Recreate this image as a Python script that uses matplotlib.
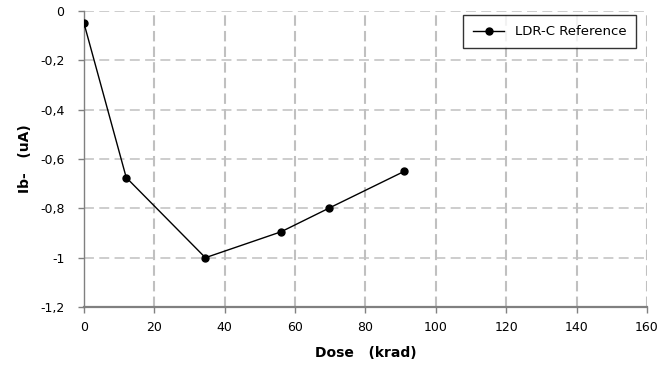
import matplotlib
matplotlib.use("Agg")
import matplotlib.pyplot as plt
from matplotlib.ticker import FixedLocator, FuncFormatter

dose = [0, 12, 34.5, 56, 69.5, 91]
ib = [-0.05, -0.675, -1.0, -0.895, -0.80, -0.65]
series_label = "LDR-C Reference"
x_ticks = [0, 20, 40, 60, 80, 100, 120, 140, 160]
y_ticks = [0, -0.2, -0.4, -0.6, -0.8, -1.0, -1.2]

fig = plt.figure(figsize=(6.62, 3.80), dpi=100)
ax = fig.add_axes([0.1269, 0.192, 0.8504, 0.779])

ax.set_xlim(0, 160)
ax.set_ylim(-1.2, 0)

grid_col = "#c0c0c0"
for xv in x_ticks[1:]:
    ax.axvline(xv, color=grid_col, lw=1.5, ls=(0, (5, 2.5)), zorder=1)
for yv in y_ticks[:-1]:
    ax.axhline(yv, color=grid_col, lw=1.1, ls=(0, (6.5, 3.5)), zorder=1)

ax.plot(dose, ib, color="black", lw=1.0, marker="o", ms=5,
        markerfacecolor="black", markeredgecolor="black",
        label=series_label, zorder=3)

for side in ("top", "right"):
    ax.spines[side].set_visible(False)
ax.spines["left"].set_color("#808080")
ax.spines["left"].set_linewidth(1.0)
ax.spines["bottom"].set_color("#808080")
ax.spines["bottom"].set_linewidth(1.6)

ax.xaxis.set_major_locator(FixedLocator(x_ticks))
ax.yaxis.set_major_locator(FixedLocator(y_ticks))

def comma_fmt(v, pos):
    if abs(v) < 1e-9:
        return "0"
    s = ("%.1f" % v).rstrip("0").rstrip(".")
    return s.replace(".", ",")

ax.yaxis.set_major_formatter(FuncFormatter(comma_fmt))
ax.xaxis.set_major_formatter(FuncFormatter(lambda v, p: "%d" % v))
ax.tick_params(axis="both", colors="#808080", labelcolor="black",
               labelsize=9, length=4, width=1.0)
ax.tick_params(axis="x", pad=6)
ax.tick_params(axis="y", pad=10)

ax.set_xlabel("Dose   (krad)", fontsize=10, fontweight="bold", labelpad=9)
ax.set_ylabel("Ib-   (uA)", fontsize=10, fontweight="bold", labelpad=6)

leg = ax.legend(loc="upper right", fontsize=9.5, frameon=True, fancybox=False,
                edgecolor="black", borderpad=0.75, handlelength=2.4,
                bbox_to_anchor=(0.993, 1.008))
leg.get_frame().set_linewidth(1.0)

fig.savefig("out.png", dpi=100)
